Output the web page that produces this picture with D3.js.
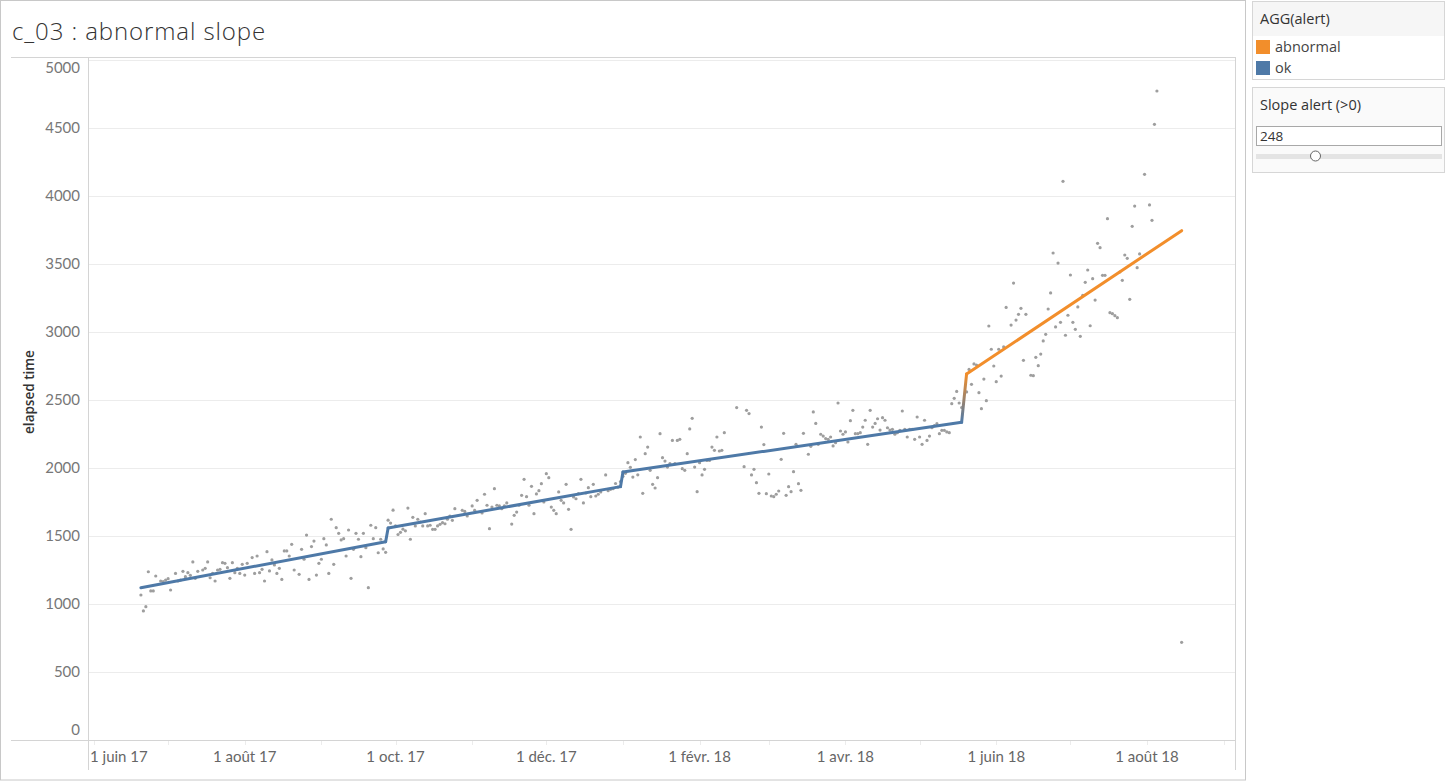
<!DOCTYPE html>
<html>
<head>
<meta charset="utf-8">
<script src="https://cdn.jsdelivr.net/npm/d3@7"></script>
<style>
  html, body { margin: 0; padding: 0; background: #fff; }
  svg { display: block; font-family: Lato, "Open Sans", sans-serif; }
</style>
</head>
<body>
<svg id="chart" width="1448" height="781"></svg>
<script>
// ---------------- data ----------------
const titleText = "c_03 : abnormal slope";
const yAxisTitle = "elapsed time";
const baseDate = "2017-06-01";           // day 0 of the day offsets below
const xDomain = ["2017-05-30T00:00", "2018-09-05T14:00"];
const yDomain = [0, 5022];
const yTicks = [0, 500, 1000, 1500, 2000, 2500, 3000, 3500, 4000, 4500, 5000];
const xTickDates = ["2017-06-01","2017-08-01","2017-10-01","2017-12-01","2018-02-01","2018-04-01","2018-06-01","2018-08-01"];
const xTickLabels = ["1 juin 17","1 août 17","1 oct. 17","1 déc. 17","1 févr. 18","1 avr. 18","1 juin 18","1 août 18"];
const alertCategories = ["abnormal", "ok"];
const alertColors = ["#f28e2b", "#4e79a7"];
const sliderValue = 248;
const sliderLabel = "Slope alert (>0)";
const legendTitle = "AGG(alert)";

// scatter: [day offset from baseDate, elapsed time]
const points = [
[19,1066],[20,949],[21,980],[22,1237],[23,1096],[24,1096],[25,1206],[27,1169],[28,1164],[29,1176],
[30,1186],[31,1103],[33,1225],[34,1169],[35,1176],[36,1240],[37,1201],[38,1230],[39,1211],[40,1309],
[41,1189],[42,1240],[44,1250],[45,1262],[46,1309],[47,1193],[48,1225],[49,1169],[50,1250],[51,1255],
[52,1304],[53,1299],[54,1267],[55,1189],[56,1304],[57,1230],[58,1262],[59,1225],[60,1292],[61,1213],
[62,1299],[64,1341],[65,1225],[66,1353],[67,1230],[68,1255],[69,1169],[70,1385],[71,1243],[72,1324],
[73,1287],[74,1225],[75,1262],[76,1181],[77,1390],[78,1390],[79,1353],[80,1439],[81,1250],[83,1218],
[84,1402],[85,1329],[86,1507],[87,1181],[88,1422],[89,1463],[90,1213],[91,1299],[92,1329],[93,1480],
[94,1434],[95,1225],[96,1623],[97,1292],[98,1561],[99,1520],[100,1471],[101,1480],[102,1353],[103,1544],
[104,1189],[105,1402],[106,1520],[107,1476],[108,1348],[109,1520],[110,1414],[111,1120],[112,1579],[113,1480],
[114,1561],[115,1377],[116,1476],[117,1405],[118,1380],[119,1616],[120,1595],[121,1690],[122,1574],[123,1511],
[124,1527],[125,1550],[126,1538],[127,1705],[128,1476],[129,1637],[130,1574],[131,1623],[132,1603],[133,1574],
[134,1664],[135,1574],[136,1579],[137,1549],[138,1549],[139,1574],[140,1586],[141,1598],[142,1590],[143,1623],
[144,1647],[145,1615],[146,1701],[149,1689],[150,1681],[151,1647],[153,1721],[154,1689],[155,1762],[157,1669],
[158,1807],[159,1726],[160,1554],[161,1713],[162,1848],[163,1726],[164,1721],[165,1701],[166,1721],[167,1743],
[169,1588],[170,1652],[171,1676],[172,1726],[173,1799],[174,1917],[175,1789],[176,1726],[177,1865],[178,1664],
[179,1809],[180,1833],[181,1885],[182,1750],[183,1958],[184,1929],[185,1713],[186,1689],[187,1664],[188,1824],
[189,1762],[190,1743],[191,1880],[192,1696],[193,1549],[194,1787],[195,1774],[196,1811],[197,1917],[198,1743],
[199,1816],[200,1855],[201,1789],[202,1880],[203,1794],[204,1807],[205,1824],[207,1949],[208,1833],[209,1843],
[210,1848],[211,1886],[212,1859],[213,1900],[214,1939],[215,1961],[216,2039],[217,2005],[218,1933],[219,2062],
[220,1950],[221,2228],[222,1814],[223,2105],[224,2154],[225,1983],[226,1880],[227,1853],[228,1929],[229,2252],
[230,2076],[231,2051],[232,2007],[233,2032],[234,2203],[235,2032],[236,2203],[237,2211],[238,1995],[239,1983],
[240,2105],[241,2287],[242,2365],[243,2007],[244,1826],[245,2039],[246,1949],[247,1990],[248,2056],[249,2056],
[250,2154],[251,2130],[252,2228],[253,2125],[254,2130],[255,2260],[260,2444],[263,2010],[264,2424],[265,2400],
[266,1949],[267,1990],[268,1892],[269,1814],[270,2301],[271,2172],[272,1811],[273,1956],[274,1794],[275,1789],
[276,1807],[277,1831],[278,2064],[279,2255],[280,1799],[281,1863],[282,1826],[283,1973],[284,2174],[285,1885],
[286,1836],[287,2255],[289,2101],[290,2159],[291,2412],[292,2328],[293,2174],[294,2248],[295,2235],[296,2216],
[297,2211],[298,2228],[299,2162],[300,2186],[301,2478],[302,2272],[303,2248],[304,2265],[305,2191],[306,2348],
[307,2424],[308,2252],[309,2252],[310,2260],[311,2301],[312,2351],[313,2174],[314,2424],[315,2301],[316,2328],
[317,2362],[318,2279],[319,2370],[320,2351],[321,2296],[322,2279],[323,2284],[324,2248],[325,2260],[326,2277],
[327,2419],[328,2284],[329,2228],[330,2284],[331,2284],[332,2211],[333,2375],[334,2228],[335,2174],[336,2351],
[337,2203],[338,2235],[339,2296],[340,2311],[341,2326],[342,2252],[343,2277],[344,2277],[345,2265],[346,2260],
[347,2473],[348,2512],[349,2563],[350,2478],[351,2445],[353,2559],[354,2725],[355,2615],[356,2765],[357,2757],
[358,2554],[359,2436],[360,2654],[361,2495],[362,3044],[363,2873],[364,2750],[365,2635],[366,2873],[367,2676],
[368,2890],[369,3181],[371,3051],[372,3360],[373,3088],[374,3130],[375,3174],[376,2792],[377,3130],[379,2682],
[380,2679],[381,2814],[382,2752],[383,2838],[384,2934],[385,2983],[386,3169],[387,3287],[388,3581],[389,3037],
[390,3507],[391,3071],[392,4108],[393,2976],[394,3123],[395,3419],[396,3071],[397,3020],[398,3184],[399,2968],
[400,3270],[401,3365],[402,3456],[403,3046],[404,3392],[405,3235],[406,3652],[407,3620],[408,3417],[409,3417],
[410,3833],[411,3142],[412,3135],[413,3120],[414,3105],[415,3441],[416,3380],[417,3566],[418,3542],[419,3240],
[420,3777],[421,3926],[422,3473],[423,3574],[425,4159],[427,3934],[428,3821],[429,4527],[430,4772],[440,718]
];

// piecewise trend line vertices
const trendDays   = [19, 118, 119, 213, 214, 351, 353, 440];
const trendValues = [1120, 1458, 1559, 1863, 1970, 2336, 2691, 3745];
const trendAlert  = ["ok","ok","ok","ok","ok","ok","abnormal","abnormal"];

// ---------------- drawing ----------------
const svg = d3.select("#chart");
const W = 1448, H = 781;
const plot = { left: 89, right: 1235, top: 57, bottom: 740 };
const panelFont = "'Open Sans', Lato, sans-serif";

const parseDay = d3.timeParse("%Y-%m-%d");
const parseDT = d3.timeParse("%Y-%m-%dT%H:%M");
const base = parseDay(baseDate);
const dayToDate = d => d3.timeDay.offset(base, d);

const x = d3.scaleTime().domain(xDomain.map(parseDT)).range([plot.left, plot.right]);
const y = d3.scaleLinear().domain(yDomain).range([plot.bottom, plot.top]);
const color = d3.scaleOrdinal().domain(alertCategories).range(alertColors);

svg.append("rect").attr("width", W).attr("height", H).attr("fill", "#fff");

// outer worksheet border
svg.append("rect").attr("x", 0.5).attr("y", 0.5).attr("width", 1245).attr("height", 779.5)
  .attr("fill", "none").attr("stroke", "#c8c8c8");

// title
svg.append("text").attr("x", 12).attr("y", 40).text(titleText)
  .attr("font-family", panelFont)
  .attr("font-size", 24).attr("letter-spacing", 0.9).attr("fill", "#333").attr("font-weight", 300);

// gridlines
const gGrid = svg.append("g");
gGrid.selectAll("line").data(yTicks).join("line")
  .attr("x1", plot.left).attr("x2", plot.right)
  .attr("y1", d => Math.round(y(d)) + 0.5).attr("y2", d => Math.round(y(d)) + 0.5)
  .attr("stroke", "#ececec");

// frame lines
const frameColor = "#d4d4d4";
svg.append("line").attr("x1", 11).attr("x2", plot.right).attr("y1", plot.top + 0.5).attr("y2", plot.top + 0.5).attr("stroke", frameColor);
svg.append("line").attr("x1", 11).attr("x2", plot.right).attr("y1", plot.bottom + 0.5).attr("y2", plot.bottom + 0.5).attr("stroke", frameColor);
svg.append("line").attr("x1", plot.left - 0.5).attr("x2", plot.left - 0.5).attr("y1", plot.top).attr("y2", 770).attr("stroke", frameColor);
svg.append("line").attr("x1", plot.right + 0.5).attr("x2", plot.right + 0.5).attr("y1", plot.top).attr("y2", 770).attr("stroke", frameColor);

// month tick marks
const months = d3.timeMonth.range(x.domain()[0], x.domain()[1]).filter(d => d > x.domain()[0]);
svg.append("g").selectAll("line").data(months).join("line")
  .attr("x1", d => Math.round(x(d)) + 0.5).attr("x2", d => Math.round(x(d)) + 0.5)
  .attr("y1", plot.bottom + 1).attr("y2", plot.bottom + 5)
  .attr("stroke", "#ececec");

// y tick labels
svg.append("g").selectAll("text").data(yTicks).join("text")
  .attr("x", 80)
  .attr("y", d => {
    let p = y(d);
    if (p - 8 < plot.top) p = plot.top + 11;
    if (p + 8 > plot.bottom) p = plot.bottom - 10;
    return p;
  })
  .attr("dy", "0.35em").attr("text-anchor", "end")
  .attr("font-size", 15).attr("fill", "#777")
  .text(d => d);

// x tick labels
const xl = svg.append("g").selectAll("text").data(xTickDates).join("text")
  .attr("x", d => x(parseDay(d)))
  .attr("y", 757).attr("dy", "0.35em").attr("text-anchor", "middle")
  .attr("font-size", 15).attr("fill", "#666")
  .text((d, i) => xTickLabels[i]);
xl.each(function() {
  const t = d3.select(this);
  const w = this.getComputedTextLength();
  const cx = +t.attr("x");
  if (cx - w / 2 < plot.left + 1) t.attr("text-anchor", "start").attr("x", plot.left + 1);
});

// y axis title
svg.append("text").attr("transform", "translate(34,392) rotate(-90)")
  .attr("font-family", panelFont)
  .attr("text-anchor", "middle").attr("font-size", 13.5).attr("font-weight", 600)
  .attr("fill", "#333").text(yAxisTitle);

// scatter
svg.append("g").selectAll("circle").data(points).join("circle")
  .attr("cx", d => x(dayToDate(d[0]))).attr("cy", d => y(d[1]))
  .attr("r", 1.6).attr("fill", "#9e9e9e");

// trend line, segment by segment, colored by alert
const defs = svg.append("defs");
const gLine = svg.append("g");
for (let i = 0; i < trendDays.length - 1; i++) {
  const x1 = x(dayToDate(trendDays[i])), y1 = y(trendValues[i]);
  const x2 = x(dayToDate(trendDays[i + 1])), y2 = y(trendValues[i + 1]);
  const c1 = color(trendAlert[i]), c2 = color(trendAlert[i + 1]);
  let stroke = c1;
  if (c1 !== c2) {
    const id = "grad" + i;
    const g = defs.append("linearGradient").attr("id", id).attr("gradientUnits", "userSpaceOnUse")
      .attr("x1", x1).attr("y1", y1).attr("x2", x2).attr("y2", y2);
    g.append("stop").attr("offset", "0%").attr("stop-color", c1);
    g.append("stop").attr("offset", "100%").attr("stop-color", c2);
    stroke = `url(#${id})`;
  }
  gLine.append("line").attr("x1", x1).attr("y1", y1).attr("x2", x2).attr("y2", y2)
    .attr("stroke", stroke).attr("stroke-width", 3).attr("stroke-linecap", "round");
}

// ---------------- right panel ----------------
// legend box
svg.append("rect").attr("x", 1252.5).attr("y", 1.5).attr("width", 192).attr("height", 78)
  .attr("fill", "#fff").attr("stroke", "#d6d6d6");
svg.append("rect").attr("x", 1253).attr("y", 2).attr("width", 191).attr("height", 34).attr("fill", "#f6f6f6");
svg.append("text").attr("x", 1260).attr("y", 19).attr("dy", "0.35em")
  .attr("font-family", panelFont)
  .attr("font-size", 14.5).attr("fill", "#333").text(legendTitle);
const leg = svg.append("g").selectAll("g").data(alertCategories).join("g")
  .attr("transform", (d, i) => `translate(1256,${40 + i * 21})`);
leg.append("rect").attr("width", 14).attr("height", 14).attr("fill", d => color(d));
leg.append("text").attr("x", 19).attr("y", 7).attr("dy", "0.35em")
  .attr("font-family", panelFont)
  .attr("font-size", 14.5).attr("fill", "#444").text(d => d);

// slider box
svg.append("rect").attr("x", 1252.5).attr("y", 87.5).attr("width", 192).attr("height", 85)
  .attr("fill", "#fafafa").attr("stroke", "#d6d6d6");
svg.append("text").attr("x", 1260).attr("y", 105).attr("dy", "0.35em")
  .attr("font-family", panelFont)
  .attr("font-size", 14.5).attr("fill", "#333").text(sliderLabel);
svg.append("rect").attr("x", 1256.5).attr("y", 126.5).attr("width", 185).attr("height", 19)
  .attr("fill", "#fff").attr("stroke", "#a8a8a8");
svg.append("text").attr("x", 1260).attr("y", 136).attr("dy", "0.35em")
  .attr("font-family", panelFont)
  .attr("font-size", 13.5).attr("fill", "#333").text(sliderValue);
svg.append("rect").attr("x", 1256).attr("y", 154).attr("width", 186).attr("height", 5)
  .attr("fill", "#e4e4e4");
svg.append("circle").attr("cx", 1315.5).attr("cy", 156).attr("r", 5)
  .attr("fill", "#fff").attr("stroke", "#666");
</script>
</body>
</html>
